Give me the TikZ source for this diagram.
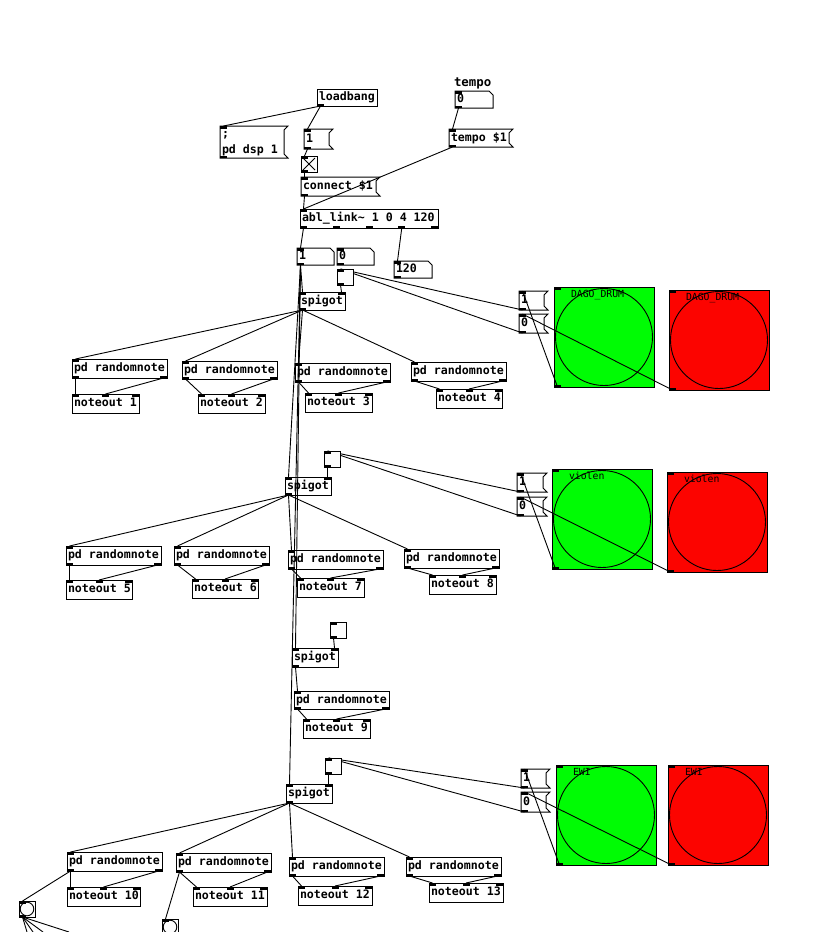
\documentclass[tikz,border=0pt]{standalone}
\usepackage{fontspec}
\setmonofont{DejaVu Sans Mono}
\usetikzlibrary{calc}
\definecolor{pdgreen}{RGB}{0,252,4}
\definecolor{pdred}{RGB}{252,4,0}
\definecolor{tglfill}{RGB}{252,252,252}
\pgfdeclarelayer{bg}\pgfdeclarelayer{fg}\pgfsetlayers{bg,main,fg}
\tikzset{
 pdb/.style={draw, line width=1pt, inner sep=0pt, outer sep=0pt, anchor=north west},
 pdt/.style={inner sep=0pt, outer sep=0pt, anchor=west, text height=8.5pt, text depth=2.5pt, font=\ttfamily\bfseries\fontsize{11.6pt}{13pt}\selectfont},
 conn/.style={line width=0.9pt},
 lbl/.style={anchor=west, inner sep=0pt, outer sep=0pt, text height=7.2pt, text depth=0pt, font=\ttfamily\fontsize{9.8pt}{11pt}\selectfont, text=black},
}
\newcommand\mi[2][0pt]{\fill ([xshift=#1]#2.north west) rectangle ++(7,2.5);}
\newcommand\mo[2][0pt]{\fill ([xshift=#1]#2.south west) rectangle ++(7,-2.5);}
\newcommand\miR[1]{\fill (#1.north east) rectangle ++(-7,2.5);}
\newcommand\moR[1]{\fill (#1.south east) rectangle ++(-7,-2.5);}
\newcommand\miM[1]{\fill ([xshift=-3.5pt]#1.north) rectangle ++(7,2.5);}
\newcommand\pdobj[6]{%
 \node[pdb, minimum width={(#4)-(#2)}, minimum height={(#5)-(#3)}] (#1) at (#2,#3) {};
 \node[pdt] (#1-t) at ([xshift=2pt]#1.west) {#6};}
\newcommand\pdmsg[6]{%
 \node[pdb, draw=none, minimum width={(#4)-(#2)}, minimum height={(#5)-(#3)}] (#1) at (#2,#3) {};
 \draw[line width=1pt] (#1.north west) -- ($(#1.north east)+(4,0)$) -- ($(#1.north east)+(0,4)$) -- ($(#1.south east)+(0,-4)$) -- ($(#1.south east)+(4,0)$) -- (#1.south west) -- cycle;
 \node[pdt] (#1-t) at ([xshift=2pt]#1.west) {#6};
 \mi{#1}\mo{#1}}
\newcommand\pdatom[6]{%
 \node[pdb, draw=none, minimum width={(#4)-(#2)}, minimum height={(#5)-(#3)}] (#1) at (#2,#3) {};
 \draw[line width=1pt] (#1.north west) -- ($(#1.north east)+(-4,0)$) -- ($(#1.north east)+(0,4)$) -- (#1.south east) -- (#1.south west) -- cycle;
 \node[pdt] (#1-t) at ([xshift=2pt]#1.west) {#6};
 \mi{#1}\mo{#1}}
\newcommand\pdtgl[3]{%
 \node[pdb, fill=tglfill, minimum width=16, minimum height=16] (#1) at (#2,#3) {};
 \mi{#1}\mo{#1}}
\newcommand\pdsbng[3]{%
 \node[pdb, fill=tglfill, minimum width=16, minimum height=16] (#1) at (#2,#3) {};
 \draw[line width=0.9pt] (#1.center) circle[radius=6.8pt];
 \mi{#1}\mo{#1}}
\newcommand\pdbng[5]{%
 \node[pdb, fill=#4, minimum width=100, minimum height=100] (#1) at (#2,#3) {};
 \draw[line width=0.9pt] (#1.center) circle[radius=48.5pt];
 \node[lbl] (#1-l) at ($(#1.north west)+(17,7)$) {#5};
 \mi{#1}\mo{#1}}
\newcommand\cn[2]{\draw[conn] ([xshift=3.5pt]#1.south west) -- ([xshift=3.5pt]#2.north west);}
\begin{document}
\begin{tikzpicture}[x=1pt,y=-1pt]
\useasboundingbox (0,0) rectangle (822,932);
\clip (0,0) rectangle (822,932);
\begin{pgfonlayer}{bg}
\fill[white] (0,0) rectangle (822,932);
\pdbng{ga}{554}{287}{pdgreen}{DAGO\_DRUM}
\pdbng{ra}{669}{290}{pdred}{DAGO\_DRUM}
\pdbng{gb}{552}{469}{pdgreen}{violen}
\pdbng{rb}{667}{472}{pdred}{violen}
\pdbng{gc}{556}{765}{pdgreen}{EWI}
\pdbng{rc}{668}{765}{pdred}{EWI}
\end{pgfonlayer}
\begin{pgfonlayer}{fg}
\pdtgl{tx}{301}{156}
\draw[line width=0.9pt] ($(tx.north west)+(2,2)$) -- ($(tx.south east)+(-2,-2)$);
\draw[line width=0.9pt] ($(tx.north east)+(-2,2)$) -- ($(tx.south west)+(2,-2)$);
\pdtgl{t1}{337}{269}
\pdtgl{t2}{324}{451}
\pdtgl{t3}{330}{622}
\pdtgl{t4}{325}{758}
\end{pgfonlayer}
% top section
\pdobj{lb}{317}{89}{377}{106}{loadbang}\mo{lb}
\pdmsg{dsp}{220}{126}{284}{158}{}
\node[pdt] (dsp-a) at (222,134.5) {;};
\node[pdt] (dsp-b) at (222,150) {pd dsp 1};
\pdmsg{m1top}{304}{129}{329}{149}{1}
\pdmsg{cnct}{301}{177}{376}{196}{connect \$1}
\node[pdt, font=\ttfamily\bfseries\fontsize{12.4pt}{14pt}\selectfont] (tlbl) at (454,83) {tempo};
\pdatom{tnum}{455}{91}{493}{108}{0}
\pdmsg{tmsg}{449}{129}{509}{147}{tempo \$1}
\pdobj{abl}{300}{209}{438}{228}{abl\_link\string~ 1 0 4 120}
\mi{abl}
\foreach \k in {0,32.75,65.5,98.25,131}{\mo[\k pt]{abl}}
\pdatom{n1}{297}{248}{334}{265}{1}
\pdatom{n0}{337}{248}{374}{265}{0}
\pdatom{n120}{394}{261}{432}{278}{120}
% spigots
\pdobj{sp1}{299}{292}{345}{310}{spigot}
\pdobj{sp2}{285}{477}{331}{495}{spigot}
\pdobj{sp3}{292}{648}{338}{667}{spigot}
\pdobj{sp4}{286}{784}{332}{803}{spigot}
\foreach \s in {sp1,sp2,sp3,sp4}{\mi{\s}\miR{\s}\mo{\s}}
% right message boxes
\pdmsg{ma1}{519}{291}{544}{310}{1}
\pdmsg{mb1}{519}{314}{544}{333}{0}
\pdmsg{ma2}{517}{473}{543}{492}{1}
\pdmsg{mb2}{517}{497}{543}{516}{0}
\pdmsg{ma3}{521}{769}{546}{788}{1}
\pdmsg{mb3}{521}{792}{546}{812}{0}
% randomnote / noteout
\foreach \i/\ax/\ay/\bx/\by/\cx/\cy/\dx/\dy in {
 1/72/359/167/378/72/394/139/413,
 2/182/361/277/379/198/394/265/413,
 3/295/363/390/382/305/393/372/412,
 4/411/362/506/381/436/389/502/408,
 5/66/546/161/565/66/580/132/599,
 6/174/546/269/565/192/579/258/598,
 7/288/550/383/569/297/578/364/597,
 8/404/549/499/568/429/575/496/594,
 9/294/691/389/709/303/719/370/738,
 10/67/852/162/871/67/887/140/906,
 11/176/853/271/872/193/887/267/906,
 12/289/857/384/876/298/886/372/905,
 13/406/857/501/876/429/883/503/902}{
 \pdobj{rn\i}{\ax}{\ay}{\bx}{\by}{pd randomnote}
 \pdobj{no\i}{\cx}{\cy}{\dx}{\dy}{noteout \i}
 \mi{rn\i}\mo{rn\i}\moR{rn\i}
 \mi{no\i}\miM{no\i}\miR{no\i}
}
\pdsbng{s1}{19}{901}
\pdsbng{s2}{162}{919}
\coordinate (f1) at (27,932);
\coordinate (f2) at (33,932);
\coordinate (f3) at (43,932);
\coordinate (f4) at (69,932);
% connections
\cn{lb}{dsp}\cn{lb}{m1top}\cn{m1top}{tx}\cn{tx}{cnct}\cn{cnct}{abl}
\cn{tnum}{tmsg}\cn{tmsg}{abl}\cn{abl}{n1}
\draw[conn] ([xshift=101.75pt]abl.south west) -- ([xshift=3.5pt]n120.north west);
\foreach \s in {sp1,sp2,sp3,sp4}{\cn{n1}{\s}}
\foreach \t/\s in {t1/sp1,t2/sp2,t3/sp3,t4/sp4}{\draw[conn] ([xshift=3.5pt]\t.south west) -- ([xshift=-3.5pt]\s.north east);}
\foreach \g/\r/\a/\b/\t in {ga/ra/ma1/mb1/t1,gb/rb/ma2/mb2/t2,gc/rc/ma3/mb3/t4}{\cn{\g}{\a}\cn{\r}{\b}\cn{\a}{\t}\cn{\b}{\t}}
\foreach \i in {1,...,4}{\cn{sp1}{rn\i}}
\foreach \i in {5,...,8}{\cn{sp2}{rn\i}}
\cn{sp3}{rn9}
\foreach \i in {10,...,13}{\cn{sp4}{rn\i}}
\foreach \i in {1,...,13}{\cn{rn\i}{no\i}\draw[conn] ([xshift=-3.5pt]rn\i.south east) -- (no\i.north);}
\cn{rn10}{s1}\cn{rn11}{s2}
\foreach \f in {f1,f2,f3,f4}{\draw[conn] ([xshift=3.5pt]s1.south west) -- (\f);}
\end{tikzpicture}
\end{document}
